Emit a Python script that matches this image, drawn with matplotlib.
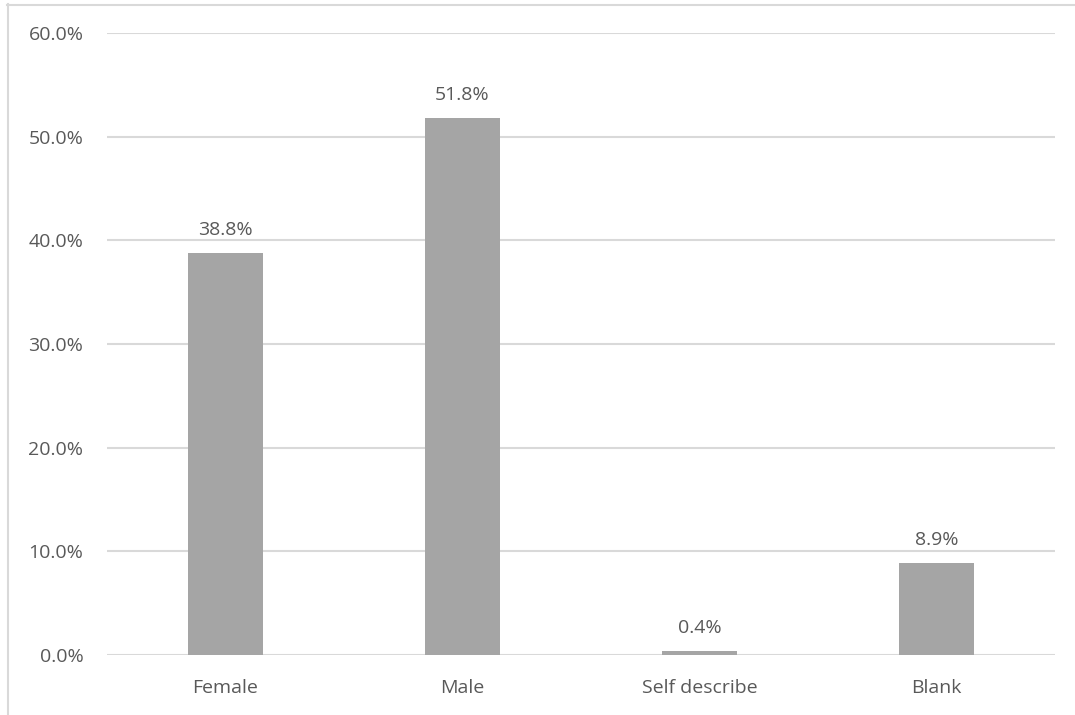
import matplotlib.pyplot as plt
from matplotlib.lines import Line2D
from matplotlib.ticker import FuncFormatter

categories = ["Female", "Male", "Self describe", "Blank"]
shares = [38.8, 51.8, 0.4, 8.9]
yticks = [0, 10, 20, 30, 40, 50, 60]

TEXT = "#595959"
GRID = "#d9d9d9"
BAR = "#a5a5a5"

plt.rcParams["font.family"] = ["Open Sans", "DejaVu Sans"]

fig = plt.figure(figsize=(10.75, 7.15), dpi=100)
ax = fig.add_axes([107 / 1075, 1 - 655 / 715, 948 / 1075, 622 / 715])

x = range(len(categories))
bars = ax.bar(x, shares, width=0.32, color=BAR, zorder=3)
for b, v in zip(bars, shares):
    ax.annotate(f"{v:.1f}%", (b.get_x() + b.get_width() / 2, v),
                xytext=(0, 10), textcoords="offset points",
                ha="center", va="bottom", fontsize=14, color=TEXT)

ax.set_xlim(-0.5, len(categories) - 0.5)
ax.set_ylim(0, 60)
ax.set_yticks(yticks)
ax.yaxis.set_major_formatter(FuncFormatter(lambda v, _: f"{v:.1f}%"))
ax.set_xticks(list(x))
ax.set_xticklabels(categories)
ax.tick_params(axis="both", length=0, labelsize=14, colors=TEXT)
ax.tick_params(axis="y", pad=17)
ax.tick_params(axis="x", pad=17)
ax.grid(axis="y", color=GRID, linewidth=1.5, zorder=0)
ax.set_axisbelow(True)
for s in ax.spines.values():
    s.set_visible(False)

# chart-area border (cropped at right and bottom in the original)
fig.add_artist(Line2D([7.5 / 1075, 7.5 / 1075], [0, 1 - 4 / 715],
                      transform=fig.transFigure, color=GRID, linewidth=1.5))
fig.add_artist(Line2D([7 / 1075, 1], [1 - 4.5 / 715, 1 - 4.5 / 715],
                      transform=fig.transFigure, color=GRID, linewidth=1.5))

fig.savefig("out.png", dpi=100)
